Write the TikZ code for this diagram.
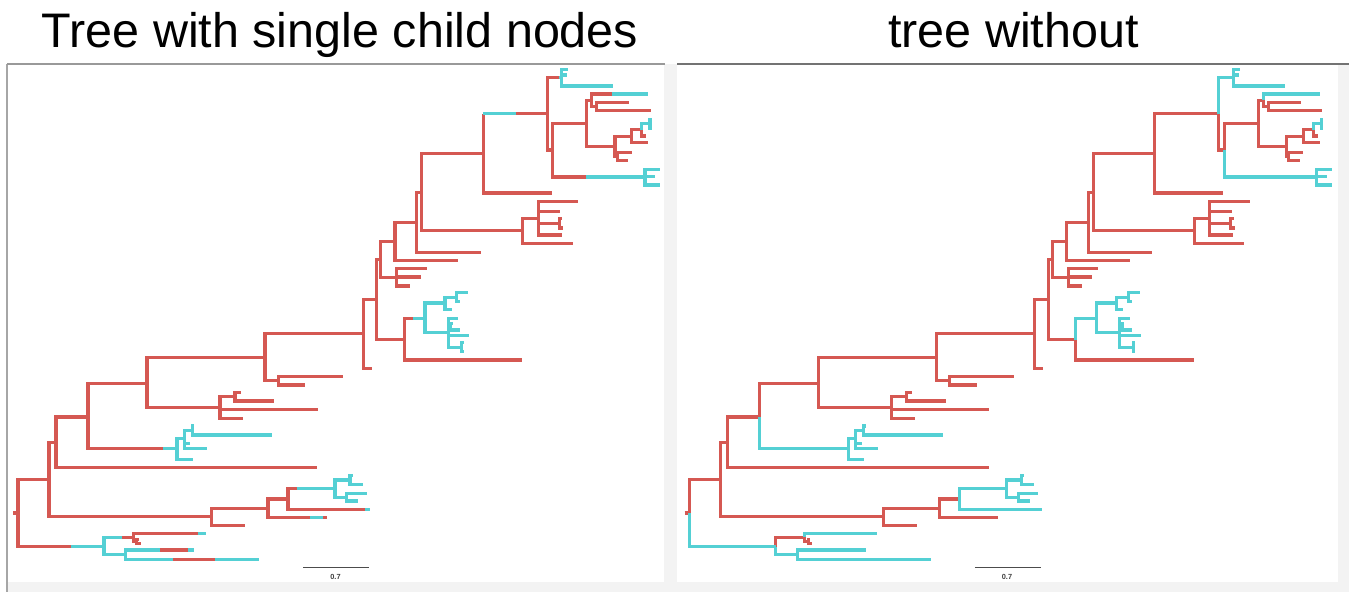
\documentclass[tikz,border=0pt]{standalone}
\usepackage{fontspec}
\setmainfont{Liberation Sans}
\definecolor{treered}{RGB}{213,88,82}
\definecolor{treecyan}{RGB}{84,208,212}
\definecolor{panelgray}{RGB}{243,243,243}
\tikzset{
  redbr/.style={treered,line width=1.8pt},
  cyanbr/.style={treecyan,line width=1.8pt},
  title/.style={anchor=base,inner sep=0pt,font=\fontsize{27.6}{30}\selectfont},
  scalebar/.style={black!70,line width=0.7pt},
  barlabel/.style={inner sep=0pt,font=\fontsize{4.2}{5}\selectfont\bfseries,black!75}
}
% same layout for both trees
\newcommand{\treecoords}{%
  \path
    (13,513) coordinate (stem)
    (18,513) coordinate (root)
    (49,479.4) coordinate (a1)
    (56,442.5) coordinate (a2)
    (88,417) coordinate (a3)
    (147,383.7) coordinate (a4)
    (177,448.8) coordinate (f)
    (184.3,438.4) coordinate (f1)
    (192.3,430.5) coordinate (f2)
    (265,357.4) coordinate (a5)
    (220,407.5) coordinate (r1)
    (235,396.9) coordinate (r2)
    (278.3,380.9) coordinate (r3)
    (363.3,333.8) coordinate (a6)
    (376.7,299.4) coordinate (a7)
    (380.7,259.9) coordinate (a8)
    (404.3,339.5) coordinate (a9)
    (425,318.9) coordinate (e)
    (445,303) coordinate (e1)
    (456.7,297.2) coordinate (e3)
    (448.3,332.5) coordinate (e2)
    (450.7,326.7) coordinate (e4)
    (461.7,347.2) coordinate (e5)
    (396.7,277.2) coordinate (r4)
    (395,241.5) coordinate (a10)
    (416.7,222.3) coordinate (a11)
    (421.7,192.2) coordinate (a12)
    (522.7,230.8) coordinate (a14)
    (538.3,218.3) coordinate (a15)
    (559.3,223.3) coordinate (a16)
    (483.3,153.5) coordinate (a13)
    (547.3,113.9) coordinate (a17)
    (561.7,77.7) coordinate (a18)
    (552.7,150) coordinate (a19)
    (586.7,123.3) coordinate (a20)
    (645,177) coordinate (a21)
    (591.7,100.3) coordinate (a22)
    (596.7,106.7) coordinate (a23)
    (615,146.1) coordinate (a24)
    (631.7,136.2) coordinate (a25)
    (617.3,156.7) coordinate (a26)
    (641.7,129.8) coordinate (a27)
    (650,123.7) coordinate (a28)
    (211.7,516.7) coordinate (b1)
    (268,508.5) coordinate (b2)
    (288,499) coordinate (b3)
    (335,488.6) coordinate (c)
    (350,480) coordinate (c1)
    (346.7,497.2) coordinate (c2)
    (104,546.5) coordinate (d)
    (133.3,537.4) coordinate (d1)
    (136.7,541.5) coordinate (d3)
    (125.7,554.7) coordinate (d2)
    (317,467.8) coordinate (l1)
    (192.7,459.3) coordinate (l2)
    (190,443.3) coordinate (l3)
    (206.7,448.3) coordinate (l4)
    (194,426) coordinate (l5)
    (271.7,435) coordinate (l6)
    (317.7,409.3) coordinate (l7)
    (243,418.3) coordinate (l8)
    (240.7,392.7) coordinate (l9)
    (274,401) coordinate (l10)
    (342.7,376.7) coordinate (l11)
    (305,385) coordinate (l12)
    (371.7,368.3) coordinate (l13)
    (522.3,360) coordinate (l14)
    (451.7,309.3) coordinate (l15)
    (468.3,292.7) coordinate (l16)
    (460,301.7) coordinate (l17)
    (458.3,318.3) coordinate (l18)
    (469.3,335.7) coordinate (l19)
    (452.5,323.3) coordinate (l20)
    (460,330) coordinate (l21)
    (463.5,342.7) coordinate (l22)
    (463.5,351.7) coordinate (l23)
    (426.7,268.3) coordinate (l24)
    (420.7,277) coordinate (l25)
    (410,286) coordinate (l26)
    (458.3,260.7) coordinate (l27)
    (480.7,252.7) coordinate (l28)
    (572.7,243.3) coordinate (l29)
    (578.3,201.7) coordinate (l30)
    (560,211.7) coordinate (l31)
    (561.7,235) coordinate (l32)
    (562,218.3) coordinate (l33)
    (563,228) coordinate (l34)
    (551.7,193) coordinate (l35)
    (568.3,69.3) coordinate (l36)
    (567,75) coordinate (l37)
    (613.3,86) coordinate (l38)
    (660,169.3) coordinate (l39)
    (655,176.7) coordinate (l40)
    (660,185) coordinate (l41)
    (648.3,94) coordinate (l42)
    (629.3,102.7) coordinate (l43)
    (650.7,110.7) coordinate (l44)
    (648.3,142.7) coordinate (l45)
    (631.7,152.7) coordinate (l46)
    (628.3,160.7) coordinate (l47)
    (646,136) coordinate (l48)
    (651.7,119.3) coordinate (l49)
    (651.7,128) coordinate (l50)
    (245,525.7) coordinate (l51)
    (326.7,517.7) coordinate (l52)
    (370,509.3) coordinate (l53)
    (352.5,475.7) coordinate (l54)
    (362.7,484.3) coordinate (l55)
    (366.7,493.3) coordinate (l56)
    (358.3,501) coordinate (l57)
    (205.7,533.3) coordinate (l58)
    (138.7,539.3) coordinate (l59)
    (140.7,543.7) coordinate (l60)
    (194.3,550) coordinate (l61)
    (259.3,559.3) coordinate (l62)
    (303.3,567.7) coordinate (sb1)
    (369.3,567.7) coordinate (sb2);}
% branches coloured alike in both trees
\newcommand{\commonedges}{%
  \begin{scope}[redbr]
    \draw (stem) -- (root);
    \draw (root) |- (a1);
    \draw (a1) |- (a2);
    \draw (a1) |- (b1);
    \draw (a2) |- (a3);
    \draw (a2) |- (l1);
    \draw (a3) |- (a4);
    \draw (a4) |- (a5);
    \draw (a4) |- (r1);
    \draw (r1) |- (r2);
    \draw (r1) |- (l7);
    \draw (r1) |- (l8);
    \draw (r2) |- (l9);
    \draw (r2) |- (l10);
    \draw (a5) |- (a6);
    \draw (a5) |- (r3);
    \draw (r3) |- (l11);
    \draw (r3) |- (l12);
    \draw (a6) |- (a7);
    \draw (a6) |- (l13);
    \draw (a7) |- (a8);
    \draw (a7) |- (a9);
    \draw (a9) |- (l14);
    \draw (a8) |- (a10);
    \draw (a8) |- (r4);
    \draw (r4) |- (l24);
    \draw (r4) |- (l25);
    \draw (r4) |- (l26);
    \draw (a10) |- (a11);
    \draw (a10) |- (l27);
    \draw (a11) |- (a12);
    \draw (a11) |- (l28);
    \draw (a12) |- (a13);
    \draw (a12) |- (a14);
    \draw (a14) |- (a15);
    \draw (a14) |- (l29);
    \draw (a15) |- (l30);
    \draw (a15) |- (l31);
    \draw (a15) |- (a16);
    \draw (a15) |- (l32);
    \draw (a16) |- (l33);
    \draw (a16) |- (l34);
    \draw (a13) |- (l35);
    \draw (a17) |- (a19);
    \draw (a19) |- (a20);
    \draw (a20) |- (a22);
    \draw (a20) |- (a24);
    \draw (a22) |- (a23);
    \draw (a23) |- (l43);
    \draw (a23) |- (l44);
    \draw (a24) |- (a25);
    \draw (a24) |- (a26);
    \draw (a25) |- (a27);
    \draw (a25) |- (l45);
    \draw (a26) |- (l46);
    \draw (a26) |- (l47);
    \draw (a27) |- (l48);
    \draw (b1) |- (b2);
    \draw (b1) |- (l51);
    \draw (b2) |- (b3);
    \draw (d1) |- (d3);
    \draw (d3) |- (l59);
    \draw (d3) |- (l60);
  \end{scope}
  \begin{scope}[cyanbr]
    \draw (f) |- (f1);
    \draw (f) |- (l2);
    \draw (f1) |- (f2);
    \draw (f1) |- (l3);
    \draw (f1) |- (l4);
    \draw (f2) |- (l5);
    \draw (f2) |- (l6);
    \draw (e) |- (e1);
    \draw (e) |- (e2);
    \draw (e1) |- (e3);
    \draw (e1) |- (l15);
    \draw (e3) |- (l16);
    \draw (e3) |- (l17);
    \draw (e2) |- (l18);
    \draw (e2) |- (e4);
    \draw (e2) |- (l19);
    \draw (e2) |- (e5);
    \draw (e4) |- (l20);
    \draw (e4) |- (l21);
    \draw (e5) |- (l22);
    \draw (e5) |- (l23);
    \draw (c) |- (c1);
    \draw (c) |- (c2);
    \draw (c1) |- (l54);
    \draw (c1) |- (l55);
    \draw (c2) |- (l56);
    \draw (c2) |- (l57);
    \draw (a18) |- (l36);
    \draw (a18) |- (l37);
    \draw (a18) |- (l38);
    \draw (a21) |- (l39);
    \draw (a21) |- (l40);
    \draw (a21) |- (l41);
    \draw (a27) |- (a28);
    \draw (a28) |- (l49);
    \draw (a28) |- (l50);
    \draw (d) |- (d2);
  \end{scope}
  \draw[scalebar] (sb1) -- (sb2);
  \node[barlabel] (bar) at (335.5,577) {0.7};}

\begin{document}
\begin{tikzpicture}[x=0.02cm,y=-0.02cm]
  \useasboundingbox (0,0) rectangle (1349,592);
  % panels
  \fill[white] (0,0) rectangle (1349,592);
  \fill[panelgray] (7,64) rectangle (1349,592);
  \fill[white] (8,65) rectangle (664,581.5);
  \fill[white] (677,65) rectangle (1337.5,581.5);
  \draw[black!35,line width=0.9pt] (7,64) -- (7,592);
  \draw[black!40,line width=0.9pt] (7,64) -- (665,64);
  \draw[black!55,line width=0.9pt] (677,64) -- (1349,64);

  \node[title] (lefttitle) at (340,47) {Tree with single child nodes};
  \node[title] (righttitle) at (1013.5,47) {tree without};

  % left tree, with the single child nodes
  \begin{scope}[name prefix=L-]
    \treecoords
    \path
      (70.7,546.5) coordinate (s1)
      (163,448.8) coordinate (s2)
      (413.3,318.9) coordinate (s3)
      (483.3,113.9) coordinate (k1)
      (516,113.9) coordinate (s4)
      (559,77.7) coordinate (s5)
      (586,177) coordinate (s6)
      (611.7,94) coordinate (s7)
      (310,517.7) coordinate (s8)
      (323,517.7) coordinate (s9)
      (296.7,488.6) coordinate (s10)
      (365,509.3) coordinate (s11)
      (121.7,537.4) coordinate (s12)
      (198.3,533.3) coordinate (s13)
      (160,550) coordinate (s14)
      (188.3,550) coordinate (s15)
      (173.3,559.3) coordinate (s16)
      (215,559.3) coordinate (s17);
    \commonedges
    \begin{scope}[redbr]
      \draw (root) |- (s1);
      \draw (a3) |- (s2);
      \draw (a9) |- (s3);
      \draw (a13) -- (k1);
      \draw (s4) -- (a17);
      \draw (a17) |- (s5);
      \draw (a19) |- (s6);
      \draw (a22) |- (s7);
      \draw (b2) |- (s8);
      \draw (s9) -- (l52);
      \draw (b3) |- (s10);
      \draw (b3) |- (s11);
      \draw (s12) -- (d1);
      \draw (d1) |- (s13);
      \draw (s14) -- (s15);
      \draw (s16) -- (s17);
    \end{scope}
    \begin{scope}[cyanbr]
      \draw (s1) -- (d);
      \draw (s2) -- (f);
      \draw (s3) -- (e);
      \draw (k1) -- (s4);
      \draw (s5) -- (a18);
      \draw (s6) -- (a21);
      \draw (s7) -- (l42);
      \draw (s8) -- (s9);
      \draw (s10) -- (c);
      \draw (s11) -- (l53);
      \draw (d) |- (s12);
      \draw (s13) -- (l58);
      \draw (d2) |- (s14);
      \draw (s15) -- (l61);
      \draw (d2) |- (s16);
      \draw (s17) -- (l62);
    \end{scope}
  \end{scope}

  % right tree
  \begin{scope}[name prefix=R-,shift={(671.5,0)}]
    \treecoords
    \commonedges
    \begin{scope}[redbr]
      \draw (a13) |- (a17);
      \draw (d) |- (d1);
      \draw (b2) |- (l52);
    \end{scope}
    \begin{scope}[cyanbr]
      \draw (root) |- (d);
      \draw (a3) |- (f);
      \draw (a9) |- (e);
      \draw (a17) |- (a18);
      \draw (a19) |- (a21);
      \draw (a22) |- (l42);
      \draw (b3) |- (c);
      \draw (b3) |- (l53);
      \draw (d1) |- (l58);
      \draw (d2) |- (l61);
      \draw (d2) |- (l62);
    \end{scope}
  \end{scope}
\end{tikzpicture}
\end{document}
